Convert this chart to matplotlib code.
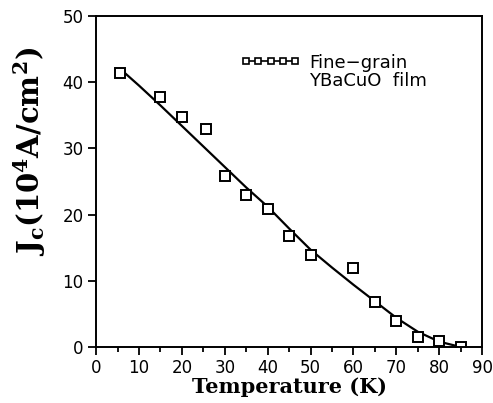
import matplotlib.pyplot as plt
from matplotlib.lines import Line2D

# measured points
temp = [5.5, 15, 20, 25.5, 30, 35, 40, 45, 50, 60, 65, 70, 75, 80, 85]
jc = [41.4, 37.8, 34.8, 32.9, 25.9, 22.9, 20.8, 16.8, 13.9, 11.9, 6.8, 3.9, 1.5, 0.9, 0.0]

# fitted curve
fit_t = [6, 10, 15, 20, 25, 30, 35, 40, 45, 50, 55, 60, 65, 70, 75, 80, 85]
fit_j = [41.8, 39.5, 36.5, 33.4, 30.3, 27.2, 24.1, 21.2, 17.9, 14.7, 12.0, 9.4, 6.9, 4.4, 2.3, 0.8, 0.0]

xticks = list(range(0, 91, 10))
yticks = list(range(0, 51, 10))
legend_lines = ['Fine\u2212grain', 'YBaCuO  film']

plt.rcParams['font.family'] = 'DejaVu Sans'
plt.rcParams['mathtext.fontset'] = 'dejavuserif'

fig = plt.figure(figsize=(4.93, 4.03), dpi=100)
ax = fig.add_axes([0.195, 0.139, 0.783, 0.821])

ax.plot(fit_t, fit_j, '-', color='black', lw=1.6)
ax.plot(temp, jc, 's', mfc='white', mec='black', ms=6.5, mew=1.4, ls='none')

ax.set_xlim(0, 90)
ax.set_ylim(0, 50)
ax.set_xticks(xticks)
ax.set_yticks(yticks)
ax.set_xticks(range(5, 90, 10), minor=True)
ax.tick_params(axis='both', direction='out', labelsize=12, width=1.3, length=6, color='black', pad=3)
ax.tick_params(axis='x', which='minor', direction='out', length=3.5, width=1.3)
for s in ax.spines.values():
    s.set_linewidth(1.4)

ax.set_xlabel('Temperature (K)', family='DejaVu Serif', fontweight='bold', fontsize=15, labelpad=0)
ax.set_ylabel(r'$\mathbf{J_c(10^4A/cm^2)}$', fontsize=21)
ax.yaxis.set_label_coords(-0.125, 0.59)

handle = Line2D([], [], color='black', lw=1.2, marker='s', mfc='white', mec='black', ms=5, mew=1.2)
blank = Line2D([], [], color='none')
leg = ax.legend([handle, blank], legend_lines, loc='upper left', bbox_to_anchor=(0.375, 0.887),
                frameon=False, numpoints=5, handlelength=3.3, handletextpad=0.5, fontsize=13,
                borderpad=0, borderaxespad=0, labelspacing=0.0)

fig.savefig('out.png', dpi=100)
